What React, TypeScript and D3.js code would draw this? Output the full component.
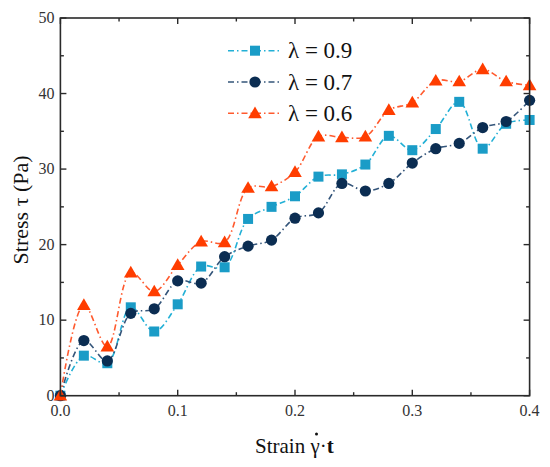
import React from "react";
import * as d3 from "d3";

const strain = [0, 0.02, 0.04, 0.06, 0.08, 0.1, 0.12, 0.14, 0.16, 0.18, 0.2, 0.22, 0.24, 0.26, 0.28, 0.3, 0.32, 0.34, 0.36, 0.38, 0.4];
const lambda09 = [0, 5.3, 4.3, 11.7, 8.5, 12.1, 17.1, 17.0, 23.4, 25.0, 26.4, 29.0, 29.3, 30.6, 34.4, 32.5, 35.3, 38.9, 32.7, 36.0, 36.5];
const lambda07 = [0, 7.3, 4.6, 10.9, 11.5, 15.2, 14.9, 18.4, 19.8, 20.6, 23.5, 24.2, 28.1, 27.1, 28.1, 30.8, 32.7, 33.4, 35.5, 36.3, 39.1];
const lambda06 = [0, 12.0, 6.5, 16.3, 13.8, 17.3, 20.4, 20.3, 27.5, 27.7, 29.6, 34.3, 34.2, 34.3, 37.8, 38.8, 41.7, 41.6, 43.2, 41.6, 41.1];

const seriesNames = ["λ = 0.9", "λ = 0.7", "λ = 0.6"];
const xTicks = [0, 0.1, 0.2, 0.3, 0.4];
const xTickLabels = ["0.0", "0.1", "0.2", "0.3", "0.4"];
const yTicks = [0, 10, 20, 30, 40, 50];

const W = 550;
const H = 467;
const left = 60.4, right = 529.6, top = 18, bottom = 395.7;

const series = [
  { name: seriesNames[0], values: lambda09, line: "#22b0d6", fill: "#1a9cc7", marker: "square" },
  { name: seriesNames[1], values: lambda07, line: "#34557a", fill: "#0b2d52", marker: "circle" },
  { name: seriesNames[2], values: lambda06, line: "#ff5a2e", fill: "#ff3d00", marker: "triangle" },
];

function Marker({ type, x, y, fill }: { type: string; x: number; y: number; fill: string }) {
  if (type === "square") return <rect x={x - 5} y={y - 5} width={10} height={10} fill={fill} />;
  if (type === "circle") return <circle cx={x} cy={y} r={5.6} fill={fill} />;
  const s = 6.8;
  return <path d={`M${x},${y - s}L${x + s},${y + s * 0.72}L${x - s},${y + s * 0.72}Z`} fill={fill} />;
}

const FONT = "Liberation Serif, Tinos, DejaVu Serif, Noto Serif, serif";

export default function App() {
  const xs = d3.scaleLinear().domain([0, 0.4]).range([left, right]);
  const ys = d3.scaleLinear().domain([0, 50]).range([bottom, top]);
  const line = d3
    .line<number>()
    .x((_, i) => xs(strain[i]))
    .y((d) => ys(d))
    .curve(d3.curveCatmullRom.alpha(0.5));

  const xMinor = d3.range(0, 0.4001, 0.05);
  const yMinor = d3.range(0, 50.001, 5);
  const dash = "6 3 1.5 3";

  return (
    <div style={{ position: "absolute", left: 0, top: 0 }}>
      <svg width={W} height={H} fontFamily={FONT} style={{ display: "block", background: "#fff" }}>
        {series.map((s) => (
          <g key={s.name}>
            <path d={line(s.values) || ""} fill="none" stroke={s.line} strokeWidth={1.6} strokeDasharray={dash} />
            {s.values.map((v, i) => (
              <Marker key={i} type={s.marker} x={xs(strain[i])} y={ys(v)} fill={s.fill} />
            ))}
          </g>
        ))}
        <rect x={left} y={top} width={right - left} height={bottom - top} fill="none" stroke="#2a2a2a" strokeWidth={1.6} />
        {xMinor.map((t, i) => {
          const len = i % 2 === 0 ? 6 : 3.5;
          return (
            <g key={"x" + i} stroke="#2a2a2a" strokeWidth={1.4}>
              <line x1={xs(t)} x2={xs(t)} y1={bottom} y2={bottom - len} />
              <line x1={xs(t)} x2={xs(t)} y1={top} y2={top + len} />
            </g>
          );
        })}
        {yMinor.map((t, i) => {
          const len = i % 2 === 0 ? 6 : 3.5;
          return (
            <g key={"y" + i} stroke="#2a2a2a" strokeWidth={1.4}>
              <line x1={left} x2={left + len} y1={ys(t)} y2={ys(t)} />
              <line x1={right} x2={right - len} y1={ys(t)} y2={ys(t)} />
            </g>
          );
        })}
        {xTicks.map((t, i) => (
          <text key={"xl" + i} x={xs(t)} y={bottom + 20} textAnchor="middle" fontSize={16} fill="#333">
            {xTickLabels[i]}
          </text>
        ))}
        {yTicks.map((t, i) => (
          <text key={"yl" + i} x={left - 6} y={ys(t) + 5} textAnchor="end" fontSize={16} fill="#333">
            {t}
          </text>
        ))}
        <text x={255} y={453} fontSize={21} fill="#111">
          Strain γ·<tspan fontWeight="bold">t</tspan>
        </text>
        <circle cx={316.5} cy={434} r={1.5} fill="#111" />
        <text
          transform={`translate(28,${(top + bottom) / 2 + 3}) rotate(-90)`}
          textAnchor="middle"
          fontSize={22}
          fill="#111"
        >
          Stress τ (Pa)
        </text>
        {series.map((s, i) => {
          const ly = 50.7 + i * 31.3;
          return (
            <g key={"lg" + i}>
              <line x1={228} x2={282} y1={ly} y2={ly} stroke={s.line} strokeWidth={1.6} strokeDasharray={dash} />
              <Marker type={s.marker} x={255} y={ly} fill={s.fill} />
              <text x={288} y={ly + 7.5} fontSize={23} fill="#111">
                {s.name}
              </text>
            </g>
          );
        })}
      </svg>
    </div>
  );
}
